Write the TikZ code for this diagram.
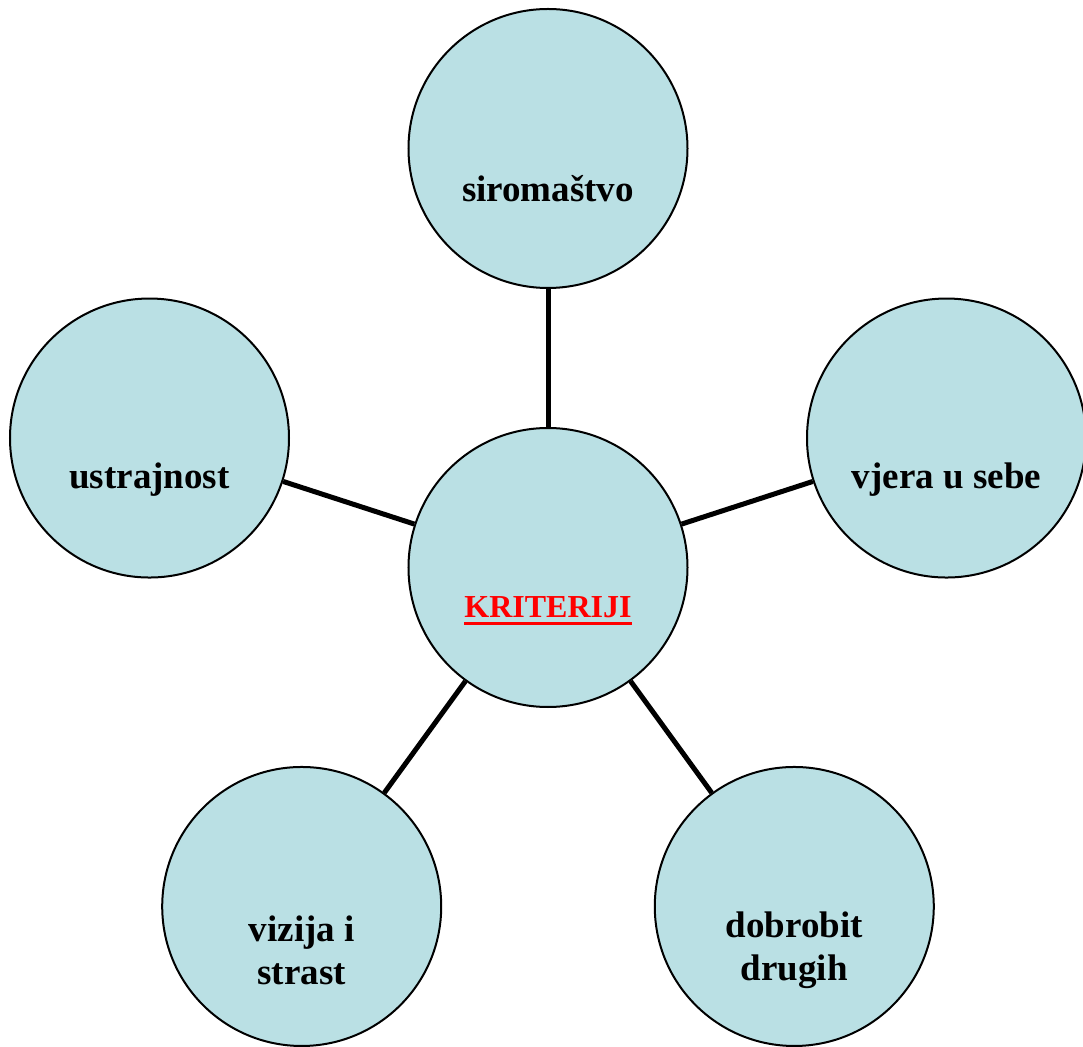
\documentclass[tikz,border=0pt]{standalone}
\usepackage{fontspec}
\setmainfont{Liberation Serif}
\usetikzlibrary{positioning}
\definecolor{bubblecolor}{RGB}{186, 224, 228}
\definecolor{keyred}{RGB}{255, 0, 0}
\tikzstyle{bubble} = [
	circle,
	line width=2pt,
	draw=black,
	fill=bubblecolor,
	minimum size=279pt,
	inner sep=0pt,
]
\tikzstyle{btext} = [
	align=center,
	inner sep=0pt,
	font=\fontsize{37}{43}\selectfont\bfseries,
]
\tikzstyle{link} = [
	line width=5pt,
	draw=black,
]

\begin{document}
\begin{tikzpicture}[x=1pt, y=1pt]
	\useasboundingbox (-548,-478.5) rectangle (535,567.5);

	%
	% Circles
	\node[bubble] (crit) at (0,0) {};
	\node[bubble] (sirom) at (90:419) {};
	\node[bubble] (vjera) at (18:419) {};
	\node[bubble] (dobro) at (-54:419) {};
	\node[bubble] (vizija) at (-126:419) {};
	\node[bubble] (ustraj) at (162:419) {};

	%
	% Texts
	\node[btext, text=keyred, font=\fontsize{32}{38}\selectfont\bfseries] (crit_t) at ([yshift=-40pt]crit.center) {KRITERIJI};
	\draw[keyred, line width=3.5pt] ([yshift=-5.5pt]crit_t.base west) -- ([yshift=-5.5pt]crit_t.base east);
	\node[btext] (sirom_t) at ([yshift=-40pt]sirom.center) {siromaštvo};
	\node[btext] (vjera_t) at ([yshift=-42pt]vjera.center) {vjera u sebe};
	\node[btext] (dobro_t) at ([yshift=-44pt]dobro.center) {dobrobit\\drugih};
	\node[btext] (vizija_t) at ([yshift=-44pt]vizija.center) {vizija i\\strast};
	\node[btext] (ustraj_t) at ([yshift=-42pt]ustraj.center) {ustrajnost};

	%
	% Links
	\draw[link] (crit) -- (sirom);
	\draw[link] (crit) -- (vjera);
	\draw[link] (crit) -- (dobro);
	\draw[link] (crit) -- (vizija);
	\draw[link] (crit) -- (ustraj);

\end{tikzpicture}
\end{document}
